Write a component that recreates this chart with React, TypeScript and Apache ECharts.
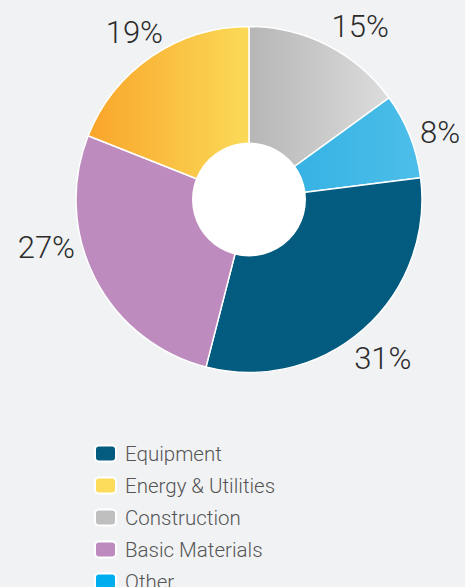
import React, { useEffect, useRef } from "react";
import * as echarts from "echarts";

const categories = ["Construction", "Other", "Equipment", "Basic Materials", "Energy & Utilities"];
const shares = [15, 8, 31, 27, 19];
const legendOrder = ["Equipment", "Energy & Utilities", "Construction", "Basic Materials", "Other"];

const sliceColors: Record<string, any> = {
  Construction: new echarts.graphic.LinearGradient(0, 0, 1, 0, [
    { offset: 0, color: "#b6b6b6" },
    { offset: 1, color: "#dcdcdc" },
  ]),
  Other: new echarts.graphic.LinearGradient(0, 0, 1, 0, [
    { offset: 0, color: "#2daee2" },
    { offset: 1, color: "#4dbee9" },
  ]),
  Equipment: "#035b80",
  "Basic Materials": "#bd8bbd",
  "Energy & Utilities": new echarts.graphic.LinearGradient(0, 0, 1, 0, [
    { offset: 0, color: "#f9a52a" },
    { offset: 1, color: "#fbda58" },
  ]),
};

const legendColors: Record<string, string> = {
  Equipment: "#035b80",
  "Energy & Utilities": "#fcdc5a",
  Construction: "#bfbfbf",
  "Basic Materials": "#bd8bbd",
  Other: "#00aeef",
};

const labelOffsets: Record<string, number[]> = {
  Construction: [-5, -1.5],
  Other: [-8.5, 4],
  Equipment: [-22.5, 14.5],
  "Basic Materials": [-2, -40],
  "Energy & Utilities": [22.5, -7.5],
};

export default function App() {
  const ref = useRef<HTMLDivElement>(null);
  useEffect(() => {
    document.body.style.margin = "0";
    const chart = echarts.init(ref.current!, null, { renderer: "svg" });
    chart.setOption({
      animation: false,
      backgroundColor: "#f1f2f4",
      legend: {
        orient: "vertical",
        left: 94,
        top: 443,
        height: 300,
        padding: 0,
        itemWidth: 21,
        itemHeight: 16,
        itemGap: 11,
        icon: "roundRect",
        selectedMode: false,
        textStyle: {
          fontFamily: "Roboto",
          fontWeight: 300,
          fontSize: 20.5,
          color: "#555555",
          padding: [0, 0, 0, 4],
        },
        data: legendOrder.map((n) => ({ name: n, itemStyle: { color: legendColors[n] } })),
      },
      series: [
        {
          type: "pie",
          center: [249, 199.5],
          radius: [0, 173],
          startAngle: 90,
          clockwise: true,
          avoidLabelOverlap: false,
          itemStyle: { borderColor: "#ffffff", borderWidth: 1.5 },
          label: {
            show: true,
            position: "outside",
            formatter: "{c}%",
            fontFamily: "Roboto",
            fontWeight: 300,
            fontSize: 31,
            color: "#2b2b2b",
            distanceToLabelLine: 0,
          },
          labelLine: { show: false, length: 20, length2: 0 },
          emphasis: { disabled: true },
          data: categories.map((c, i) => ({
            name: c,
            value: shares[i],
            itemStyle: { color: sliceColors[c] },
            label: { offset: labelOffsets[c] },
          })),
        },
        {
          type: "pie",
          center: [249, 199.5],
          radius: [0, 57],
          silent: true,
          z: 5,
          label: { show: false },
          labelLine: { show: false },
          emphasis: { disabled: true },
          itemStyle: { color: "#ffffff" },
          data: [{ name: "hole", value: 1 }],
        },
      ],
    });
    return () => chart.dispose();
  }, []);
  return <div ref={ref} style={{ width: 465, height: 587 }} />;
}
